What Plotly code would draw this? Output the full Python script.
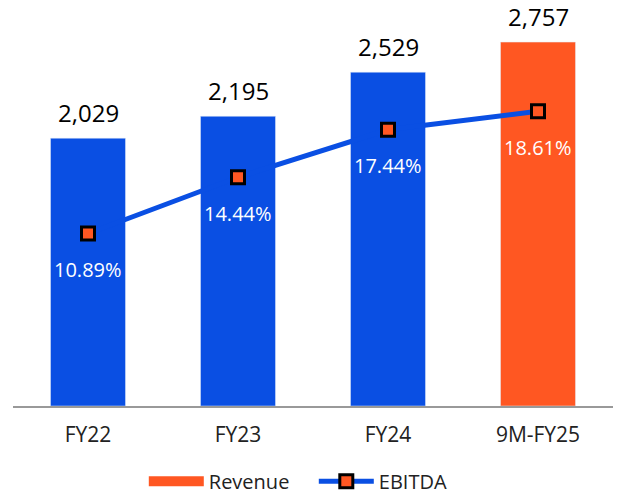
import plotly.graph_objects as go

categories = ["FY22", "FY23", "FY24", "9M-FY25"]
revenue = [2029, 2195, 2529, 2757]
ebitda_margin = [10.89, 14.44, 17.44, 18.61]
revenue_labels = ["2,029", "2,195", "2,529", "2,757"]
margin_labels = ["10.89%", "14.44%", "17.44%", "18.61%"]

BLUE = "#0A4FE3"
ORANGE = "#FF5722"
FONT = "Open Sans"

blue_vals = [v if i < 3 else None for i, v in enumerate(revenue)]
orange_vals = [v if i == 3 else None for i, v in enumerate(revenue)]

fig = go.Figure()
fig.add_trace(go.Bar(x=categories, y=blue_vals, marker_color=BLUE, showlegend=False,
                     hoverinfo="skip"))
fig.add_trace(go.Bar(x=categories, y=orange_vals, marker_color=ORANGE, name="Revenue",
                     showlegend=False))
# legend swatch for Revenue (wide block like the reference)
fig.add_trace(go.Scatter(x=[None], y=[None], mode="lines", name="Revenue",
                         line=dict(color=ORANGE, width=14)))
fig.add_trace(go.Scatter(x=categories, y=ebitda_margin, yaxis="y2", name="EBITDA",
                         mode="lines+markers",
                         line=dict(color=BLUE, width=5),
                         marker=dict(symbol="square", size=13, color=ORANGE,
                                     line=dict(color="black", width=3))))

for c, v, t in zip(categories, revenue, revenue_labels):
    fig.add_annotation(x=c, y=v, xref="x", yref="y", text=t, showarrow=False,
                       yshift=26, font=dict(family=FONT, size=24, color="black"))
for c, v, t in zip(categories, ebitda_margin, margin_labels):
    fig.add_annotation(x=c, y=v, xref="x", yref="y2", text=t, showarrow=False,
                       yshift=-36, font=dict(family=FONT, size=20, color="white"))

fig.update_layout(
    width=628, height=498,
    margin=dict(l=13, r=15, t=10, b=92, autoexpand=False),
    plot_bgcolor="white", paper_bgcolor="white",
    barmode="overlay", bargap=0.5,
    font=dict(family=FONT, size=20, color="#222"),
    xaxis=dict(showline=True, linecolor="#999", linewidth=2, ticks="",
               tickfont=dict(size=21, color="#222"), showgrid=False, automargin=False,
               ticklabelstandoff=9),
    yaxis=dict(range=[0, 3000], visible=False, showgrid=False),
    yaxis2=dict(range=[0, 25], overlaying="y", visible=False, showgrid=False),
    legend=dict(orientation="h", x=0.218, xanchor="left", y=-0.19, yanchor="middle",
                itemwidth=55, entrywidth=100, font=dict(size=20, color="#222")),
)

fig.write_html("out.html", config={"displayModeBar": False},
               post_script="document.body.style.margin='0px';document.body.style.overflow='hidden';")
